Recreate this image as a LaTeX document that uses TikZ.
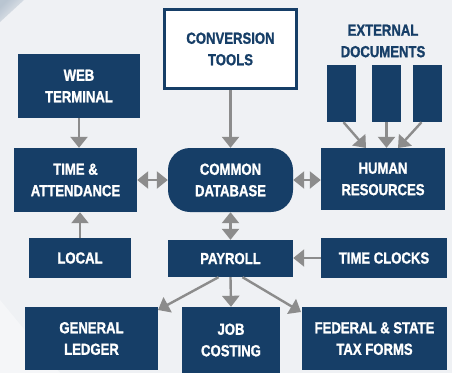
\documentclass[tikz,border=0pt]{standalone}
\usepackage{fontspec}
\setmainfont[FakeStretch=0.82,BoldFeatures={FakeBold=1.2}]{Liberation Sans}
\usetikzlibrary{arrows.meta,calc}
\definecolor{navy}{RGB}{22,62,103}
\definecolor{arrowgray}{RGB}{140,140,140}
\definecolor{bg}{RGB}{239,241,244}
\begin{document}
\begin{tikzpicture}[x=1pt,y=-1pt,
  box/.style={fill=navy,draw=none,text=white,inner sep=0pt,align=center,
    font=\fontsize{16}{21.5}\selectfont\bfseries},
  docbox/.style={fill=navy,draw=none,inner sep=0pt,minimum width=29pt,minimum height=57pt},
  conn/.style={draw=arrowgray,line width=2.4pt,-{Triangle[width=17pt,length=11pt]}},
  conn2/.style={draw=arrowgray,line width=2.4pt,{Triangle[width=17pt,length=11pt]}-{Triangle[width=17pt,length=11pt]}}]
\fill[bg] (0,0) rectangle (452,373);
\useasboundingbox (0,0) rectangle (452,373);
\fill[white,opacity=0.4] (0,300) -- (0,373) -- (60,373) -- cycle;
\shade[top color=navy!45,bottom color=bg,shading angle=45,opacity=0.6] (0,0) -- (24,0) -- (0,22) -- cycle;
% boxes
\node[box,minimum width=122pt,minimum height=64pt] (web) at (79,86) {WEB\\TERMINAL};
\node[box,minimum width=123pt,minimum height=64pt] (time) at (75.5,180) {TIME \&\\ATTENDANCE};
\node[box,fill=white,draw=navy,line width=3pt,text=navy,minimum width=132pt,minimum height=79pt] (conv) at (230.5,49) {CONVERSION\\TOOLS};
\node[box,rounded corners=22pt,minimum width=125pt,minimum height=64pt] (db) at (230.5,180) {COMMON\\DATABASE};
\node[box,minimum width=124pt,minimum height=62pt] (hr) at (383,179) {HUMAN\\RESOURCES};
\node[box,fill=none,text=navy] (ext) at (383,41) {EXTERNAL\\DOCUMENTS};
\node[docbox] (d1) at (341.5,93.5) {};
\node[docbox] (d2) at (386.5,93.5) {};
\node[docbox] (d3) at (427.5,93.5) {};
\node[box,minimum width=102pt,minimum height=40pt] (local) at (80,258) {LOCAL};
\node[box,minimum width=125pt,minimum height=37pt] (pay) at (230.5,258.5) {PAYROLL};
\node[box,minimum width=126pt,minimum height=40pt] (clock) at (384,258) {TIME CLOCKS};
\node[box,minimum width=133pt,minimum height=63pt] (gl) at (91.5,338.5) {GENERAL\\LEDGER};
\node[box,minimum width=98pt,minimum height=66pt] (job) at (231,340) {JOB\\COSTING};
\node[box,minimum width=145pt,minimum height=63pt] (fed) at (374.5,338.5) {FEDERAL \& STATE\\TAX FORMS};
% connectors
\coordinate (t1) at (366,148);
\coordinate (t3) at (398,148);
\coordinate (tgl) at (158,310);
\coordinate (tfed) at (301,312);
\draw[conn] (web.south) -- (web.south |- time.north);
\draw[conn] (local.north) -- (local.north |- time.south);
\draw[conn] (conv.south) -- (db.north);
\draw[conn2] (time.east) -- (db.west);
\draw[conn2] (db.east) -- (db.east -| hr.west);
\draw[conn2] (db.south) -- (pay.north);
\draw[conn] (clock.west) -- (clock.west -| pay.east);
\draw[conn] ($(d1.south)+(2,0)$) -- (t1);
\draw[conn] (d2.south) -- (d2.south |- hr.north);
\draw[conn] ($(d3.south)+(-6,0)$) -- (t3);
\draw[conn] ($(pay.south)+(-12,0)$) -- (tgl);
\draw[conn] (pay.south) -- (job.north);
\draw[conn] ($(pay.south)+(12,0)$) -- (tfed);
\end{tikzpicture}
\end{document}
